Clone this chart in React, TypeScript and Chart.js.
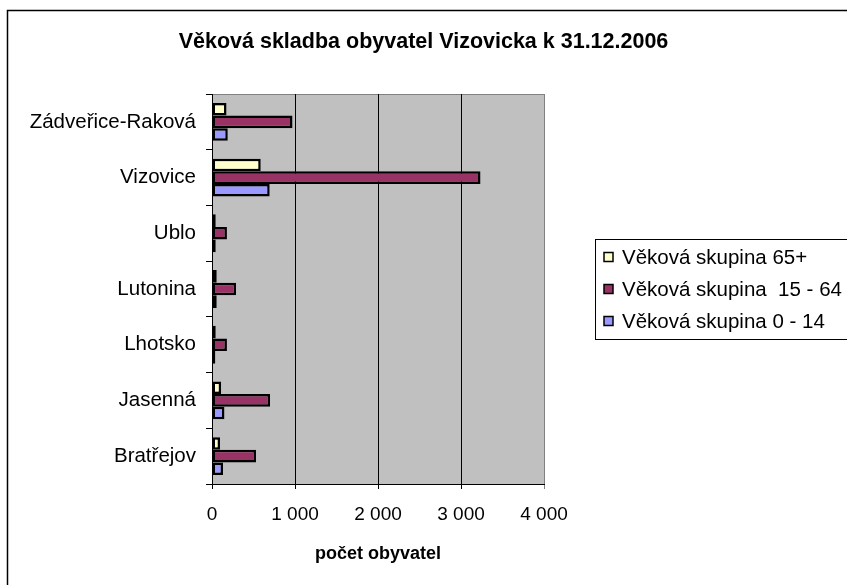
import React, { useEffect, useRef } from "react";
import { Chart, registerables } from "chart.js";

Chart.register(...registerables);

const categories = ["Zádveřice-Raková", "Vizovice", "Ublo", "Lutonina", "Lhotsko", "Jasenná", "Bratřejov"];
const age65plus = [175, 587, 45, 57, 45, 110, 97];
const age15to64 = [970, 3235, 180, 290, 180, 700, 530];
const age0to14 = [190, 695, 45, 57, 40, 150, 133];
const seriesLabels = ["Věková skupina 65+", "Věková skupina  15 - 64", "Věková skupina 0 - 14"];
const seriesColors = ["#FFFFCC", "#993366", "#9999FF"];
const xTicks = [0, 1000, 2000, 3000, 4000];
const chartTitle = "Věková skladba obyvatel Vizovicka k 31.12.2006";
const xAxisTitle = "počet obyvatel";

const FONT = "'Liberation Sans', Arial, sans-serif";

const fmt = (v: number) => String(v).replace(/\B(?=(\d{3})+(?!\d))/g, " ");

const decorPlugin = {
  id: "decor",
  beforeDraw(chart: any) {
    const { ctx, chartArea: a, width, height } = chart;
    ctx.save();
    ctx.fillStyle = "#fff";
    ctx.fillRect(0, 0, width, height);
    ctx.fillStyle = "#C0C0C0";
    ctx.fillRect(a.left, a.top, a.right - a.left, a.bottom - a.top);
    ctx.strokeStyle = "#808080";
    ctx.lineWidth = 1;
    ctx.beginPath();
    ctx.moveTo(a.left - 6, Math.round(a.top) + 0.5);
    ctx.lineTo(a.right, Math.round(a.top) + 0.5);
    ctx.stroke();
    // outer frame (left & top)
    ctx.strokeStyle = "#000";
    ctx.lineWidth = 1.5;
    ctx.beginPath();
    ctx.moveTo(7.5, height + 5);
    ctx.lineTo(7.5, 10.5);
    ctx.lineTo(width + 5, 10.5);
    ctx.stroke();
    // title
    ctx.fillStyle = "#000";
    ctx.font = `bold 21.5px ${FONT}`;
    ctx.textAlign = "center";
    ctx.textBaseline = "middle";
    ctx.fillText(chartTitle, width / 2, 42);
    ctx.restore();
  },
  afterDraw(chart: any) {
    const { ctx } = chart;
    ctx.save();
    ctx.strokeStyle = "#000";
    ctx.lineWidth = 1;
    ctx.strokeRect(595.5, 239.5, 300, 100);
    const rows = [257, 289, 321];
    ctx.font = `20.5px ${FONT}`;
    ctx.textAlign = "left";
    ctx.textBaseline = "middle";
    for (let i = 0; i < 3; i++) {
      ctx.fillStyle = seriesColors[i];
      ctx.fillRect(604, rows[i] - 4.5, 9, 9);
      ctx.lineWidth = 1.5;
      ctx.strokeRect(604, rows[i] - 4.5, 9, 9);
      ctx.fillStyle = "#000";
      ctx.fillText(seriesLabels[i], 622, rows[i] + 1);
    }
    ctx.restore();
  },
};

export default function App() {
  const ref = useRef<HTMLCanvasElement>(null);
  useEffect(() => {
    if (!ref.current) return;
    const data = [age65plus, age15to64, age0to14];
    const chart = new Chart(ref.current, {
      type: "bar",
      data: {
        labels: categories,
        datasets: data.map((d, i) => ({
          label: seriesLabels[i],
          data: d,
          backgroundColor: seriesColors[i],
          borderColor: "#000",
          borderWidth: 2.5,
          borderSkipped: false,
          categoryPercentage: 0.68,
          barPercentage: 1,
        })),
      },
      options: {
        indexAxis: "y",
        responsive: false,
        animation: false,
        devicePixelRatio: 1,
        layout: { padding: { left: 0, right: 303, top: 94, bottom: 0 } },
        plugins: {
          legend: { display: false },
          title: { display: false },
          tooltip: { enabled: false },
        },
        scales: {
          x: {
            min: 0,
            max: 4000,
            afterFit: (s: any) => { s.height = 101; },
            afterBuildTicks: (s: any) => { s.ticks = xTicks.map((v) => ({ value: v })); },
            ticks: {
              callback: (v: any) => fmt(Number(v)),
              color: "#000",
              font: { family: FONT, size: 19 },
              padding: 14,
              maxRotation: 0,
            },
            grid: {
              color: (c: any) => (c.tick && c.tick.value === 4000 ? "#808080" : "#000"),
              tickLength: 5,
              lineWidth: 1,
            },
            border: { color: "#000", width: 1 },
            title: {
              display: true,
              text: xAxisTitle,
              color: "#000",
              font: { family: FONT, size: 18, weight: "bold" },
              padding: { top: 0, bottom: 20 },
            },
          },
          y: {
            afterFit: (s: any) => { s.width = 212; },
            ticks: {
              color: "#000",
              font: { family: FONT, size: 20.5 },
              padding: 10,
            },
            grid: {
              drawOnChartArea: false,
              drawTicks: true,
              tickLength: 6,
              color: "#000",
            },
            border: { color: "#000", width: 1 },
          },
        },
      },
      plugins: [decorPlugin],
    } as any);
    return () => chart.destroy();
  }, []);
  return (
    <div style={{ position: "fixed", left: 0, top: 0, width: 847, height: 585 }}>
      <canvas ref={ref} width={847} height={585} style={{ display: "block" }} />
    </div>
  );
}
